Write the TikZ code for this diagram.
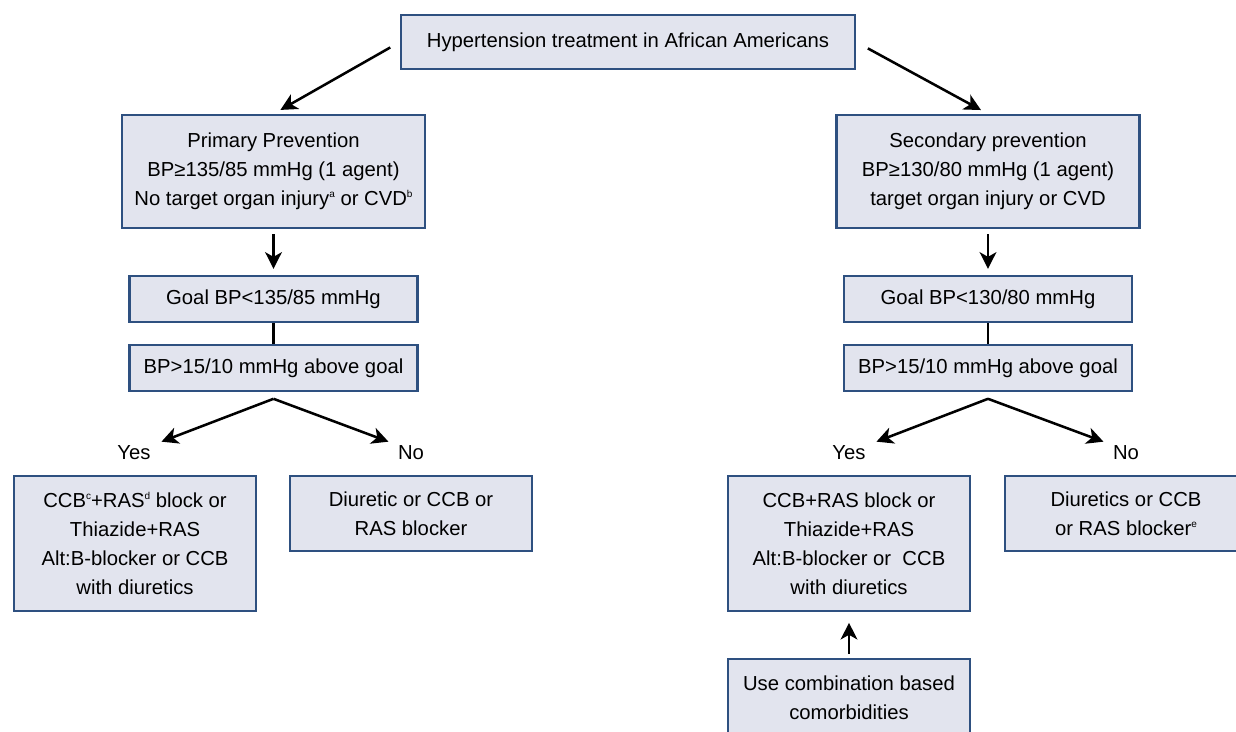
\documentclass[tikz,border=0pt]{standalone}
\usepackage{fontspec}
\setmainfont{Liberation Sans}
\usetikzlibrary{arrows.meta}
\definecolor{boxfill}{HTML}{E2E4EE}
\definecolor{boxline}{HTML}{2E5080}
\newcommand{\supmark}[1]{\raisebox{0.75ex}{\fontsize{7.5}{7.5}\selectfont #1}}

\begin{document}
\begin{tikzpicture}[x=0.75pt,y=-0.75pt,
    box/.style={draw=boxline,fill=boxfill,line width=1.7pt,align=center,
      font=\fontsize{15.2}{21.75}\selectfont,inner sep=0pt},
    lbl/.style={font=\fontsize{15.2}{16}\selectfont,inner sep=0pt},
    arrow/.style={line width=1.9pt,-{Stealth[length=12.5pt,width=12.5pt,inset=3.5pt]}},
    link/.style={line width=1.9pt}
  ]
  \useasboundingbox (0,0) rectangle (1236,732);

  % top
  \node[box,minimum width=340.5pt,minimum height=40.5pt] (top) at (628,42)
    {Hypertension treatment in African Americans};

  % primary prevention branch
  \node[box,minimum width=227.25pt,minimum height=84.75pt] (prim) at (273.5,171.5)
    {Primary Prevention\\BP≥135/85 mmHg (1 agent)\\No target organ injury\supmark{a} or CVD\supmark{b}};
  \node[box,minimum width=216pt,minimum height=34.5pt] (goalL) at (273.5,299)
    {Goal BP<135/85 mmHg};
  \node[box,minimum width=216pt,minimum height=34.5pt] (bpL) at (273.5,368)
    {BP>15/10 mmHg above goal};
  \node[lbl] (yesL) at (134,453) {Yes};
  \node[lbl] (noL) at (411,453) {No};
  \node[box,minimum width=181.5pt,minimum height=101.25pt] (comboL) at (135,543.5)
    {CCB\supmark{c}+RAS\supmark{d} block or\\Thiazide+RAS\\Alt:B-blocker or CCB\\with diuretics};
  \node[box,minimum width=181.5pt,minimum height=56.25pt] (monoL) at (411,513.5)
    {Diuretic or CCB or\\RAS blocker};

  % secondary prevention branch
  \node[box,minimum width=227.25pt,minimum height=84.75pt] (sec) at (988,171.5)
    {Secondary prevention\\BP≥130/80 mmHg (1 agent)\\target organ injury or CVD};
  \node[box,minimum width=216pt,minimum height=34.5pt] (goalR) at (988,299)
    {Goal BP<130/80 mmHg};
  \node[box,minimum width=216pt,minimum height=34.5pt] (bpR) at (988,368)
    {BP>15/10 mmHg above goal};
  \node[lbl] (yesR) at (849,453) {Yes};
  \node[lbl] (noR) at (1126,453) {No};
  \node[box,minimum width=181.5pt,minimum height=101.25pt] (comboR) at (849,543.5)
    {CCB+RAS block or\\Thiazide+RAS\\Alt:B-blocker or\ \ CCB\\with diuretics};
  \node[box,minimum width=181.5pt,minimum height=56.25pt] (monoR) at (1126,513.5)
    {Diuretics or CCB\\or RAS blocker\supmark{e}};
  \node[box,minimum width=181.5pt,minimum height=57.75pt] (comorb) at (849,697.5)
    {Use combination based\\comorbidities};

  % connectors
  \draw[arrow,shorten <=8.3pt,shorten >=6pt] (top.west) -- (prim.north);
  \draw[arrow,shorten <=10pt,shorten >=6pt] (top.east) -- (sec.north);
  \draw[arrow,shorten <=3.75pt,shorten >=4.5pt] (prim.south) -- (goalL.north);
  \draw[arrow,shorten <=3.75pt,shorten >=4.5pt] (sec.south) -- (goalR.north);
  \draw[link] (goalL.south) -- (bpL.north);
  \draw[link] (goalR.south) -- (bpR.north);
  \draw[arrow] ([yshift=-5pt]bpL.south) -- ([shift={(8pt,3pt)}]yesL.north east);
  \draw[arrow] ([yshift=-5pt]bpL.south) -- ([shift={(-7pt,3pt)}]noL.north west);
  \draw[arrow] ([yshift=-5pt]bpR.south) -- ([shift={(8pt,3pt)}]yesR.north east);
  \draw[arrow] ([yshift=-5pt]bpR.south) -- ([shift={(-7pt,3pt)}]noR.north west);
  \draw[arrow,shorten <=3pt,shorten >=8pt] (comorb.north) -- (comboR.south);
\end{tikzpicture}
\end{document}
